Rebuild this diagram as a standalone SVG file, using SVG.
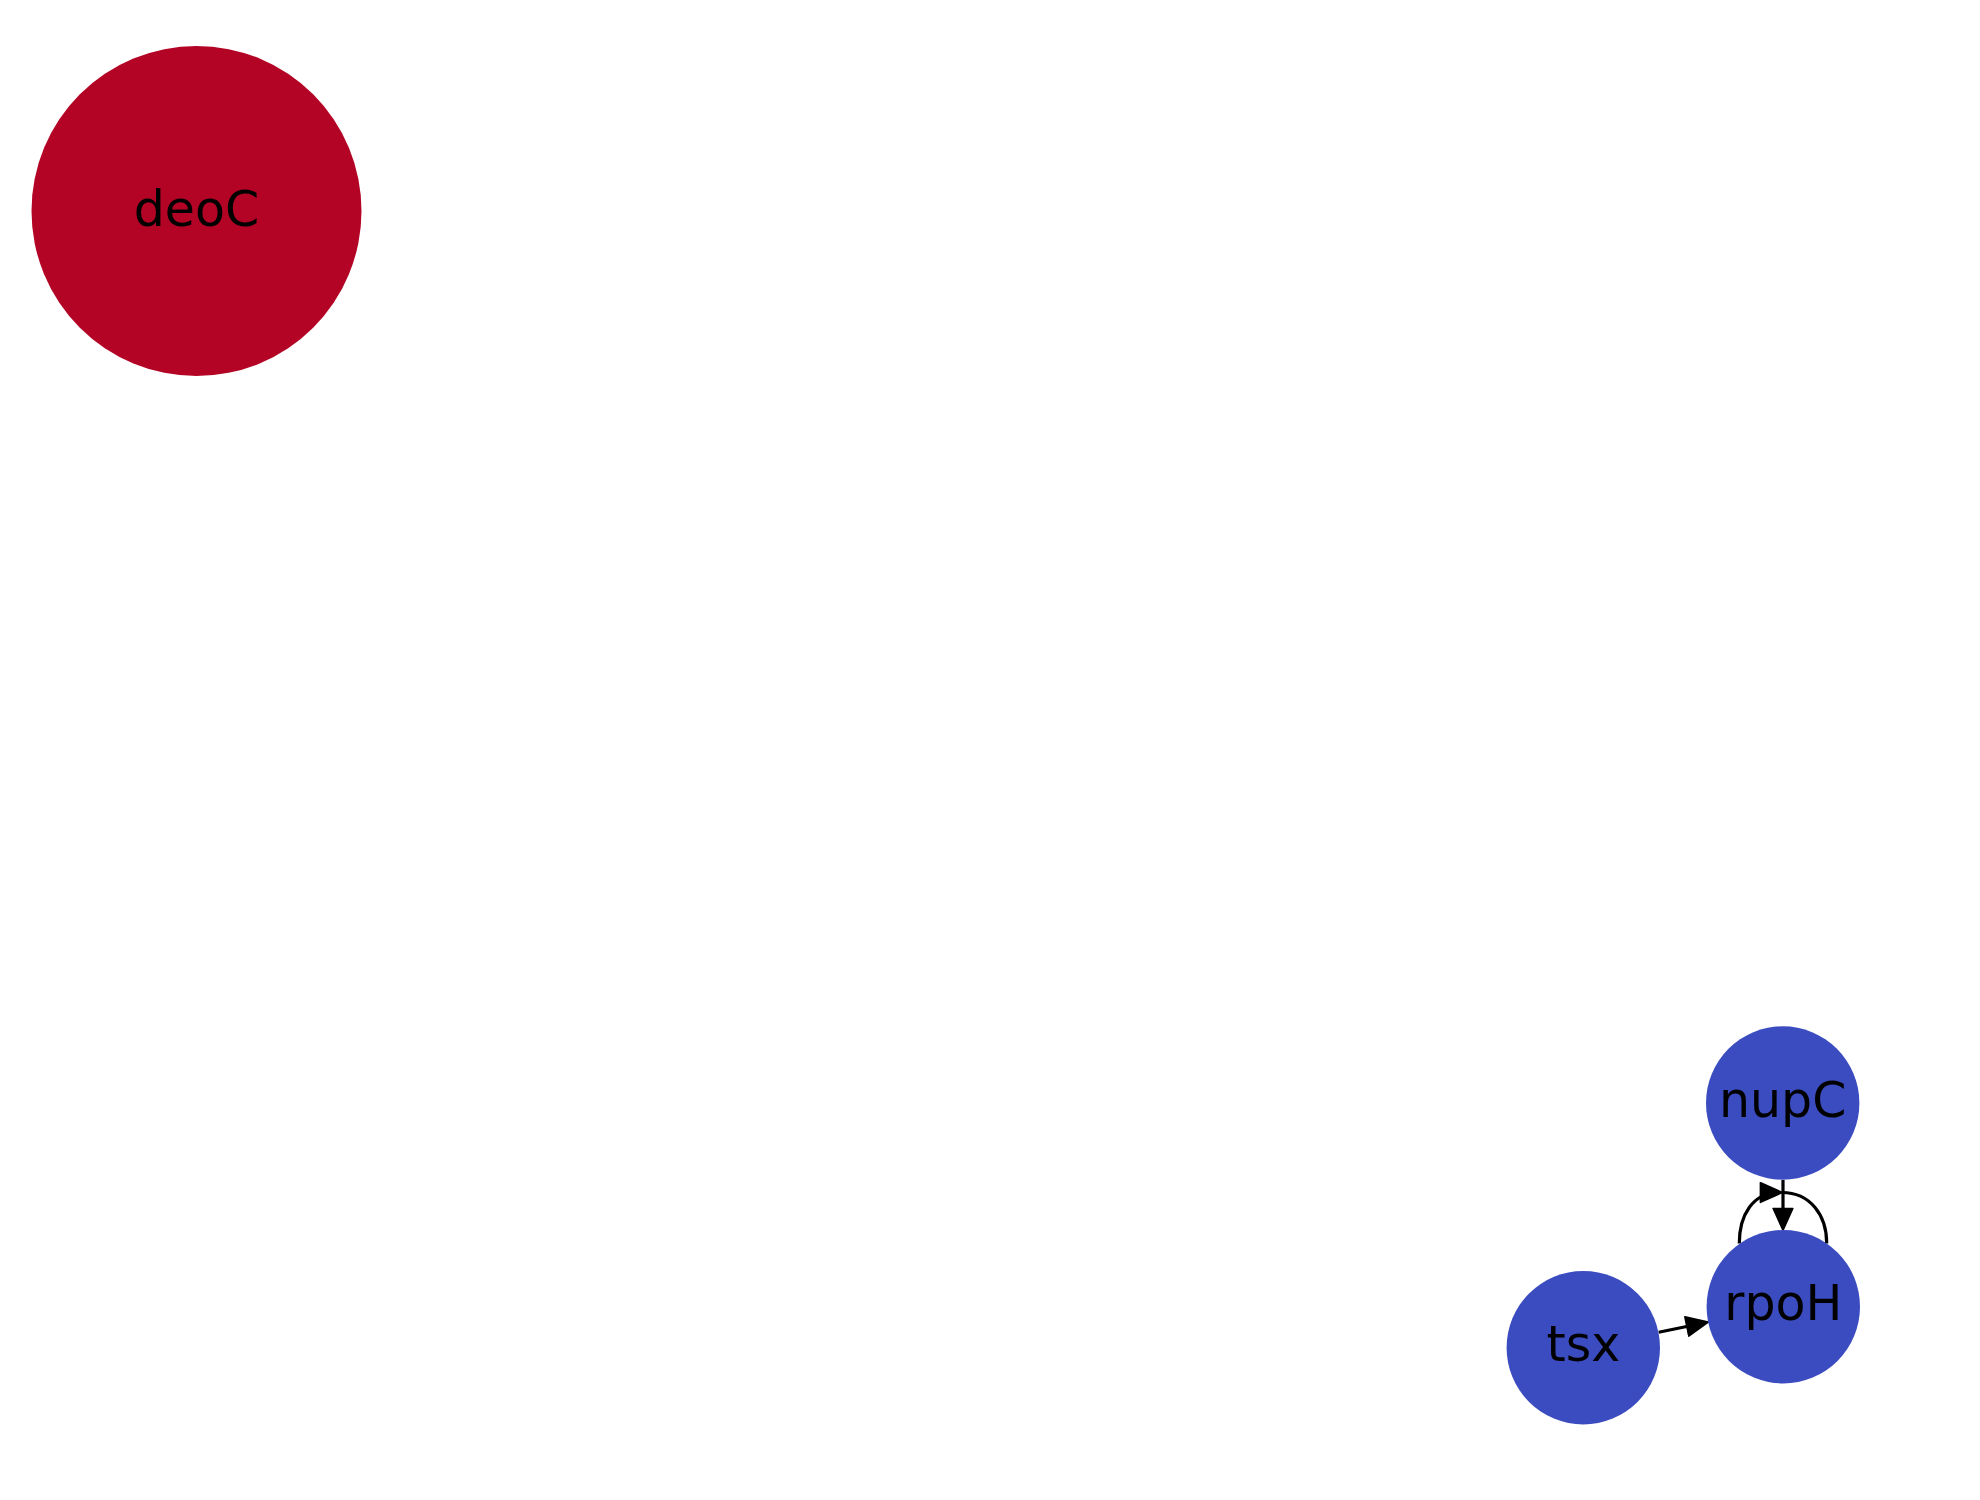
<svg xmlns="http://www.w3.org/2000/svg" width="1980" height="1500" viewBox="0 0 1980 1500">
<style>
.red{fill:#b40426}
.blue{fill:#3b4cc0}
.lbl{font-family:"DejaVu Sans",sans-serif;font-size:49px;fill:#000;text-anchor:middle}
.edge{fill:none;stroke:#000;stroke-width:3.2}
</style>
<defs>
<marker id="arr" markerUnits="userSpaceOnUse" markerWidth="24" markerHeight="22" viewBox="-1 -1 22 20" refX="17" refY="9" orient="auto">
<path d="M0,0 L20,9 L0,18 z" fill="#000" stroke="#000" stroke-width="1.5" stroke-linejoin="round"/>
</marker>
</defs>
<rect width="1980" height="1500" fill="#fff"/>
<g id="connectors">
<line class="edge" x1="1658.7" y1="1332.2" x2="1705.0" y2="1322.8" marker-end="url(#arr)"/>
<line class="edge" x1="1783" y1="1180" x2="1783" y2="1227" marker-end="url(#arr)"/>
<path class="edge" d="M1739.3,1243.5 C1739.3,1215 1753,1192.5 1779,1192.5" marker-end="url(#arr)"/>
<path class="edge" d="M1782,1192.5 C1810,1192.5 1826.7,1215 1826.7,1243.5"/>
</g>
<g id="node-deoC">
<circle class="red" cx="196.5" cy="211" r="165"/>
<text class="lbl" x="196.5" y="226">deoC</text>
</g>
<g id="node-nupC">
<circle class="blue" cx="1782.7" cy="1103" r="76.7"/>
<text class="lbl" x="1782.7" y="1117">nupC</text>
</g>
<g id="node-rpoH">
<circle class="blue" cx="1783.3" cy="1306.7" r="76.7"/>
<text class="lbl" x="1783.3" y="1320">rpoH</text>
</g>
<g id="node-tsx">
<circle class="blue" cx="1583.3" cy="1347.7" r="76.7"/>
<text class="lbl" x="1583.3" y="1361">tsx</text>
</g>
</svg>
